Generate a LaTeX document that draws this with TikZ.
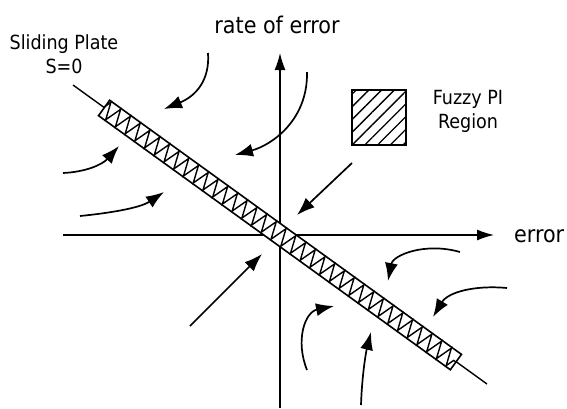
\documentclass[tikz,border=0pt]{standalone}
\usepackage{fontspec}
\setmainfont{DejaVu Sans Condensed}
\usetikzlibrary{arrows.meta,decorations.pathmorphing,patterns.meta,calc}
\begin{document}
\begin{tikzpicture}[x=1pt,y=-1pt,
  flow/.style={line width=1.7pt,-{Latex[length=18pt,width=13pt]}},
  axis/.style={line width=1.4pt,-{Latex[length=17pt,width=11pt]}},
  lbl/.style={font=\fontsize{19.5}{24}\selectfont,align=center,inner sep=0pt},
  biglbl/.style={font=\fontsize{23}{27}\selectfont,inner sep=0pt}]
\useasboundingbox (0,0) rectangle (567,408);
% axes
\coordinate (O) at (280,235);
\coordinate (xs) at (63,235);
\coordinate (xe) at (494,235);
\coordinate (ys) at (280,408);
\coordinate (ye) at (280,53);
\draw[axis] (xs) -- (xe);
\draw[axis] (ys) -- (ye);
\node[biglbl,anchor=base west] (ex) at (514,242) {error};
\node[biglbl,anchor=base] (ey) at (277,33) {rate of error};
% sliding line
\coordinate (s1) at (73,85);
\coordinate (s2) at (487,384);
\draw[line width=1.4pt] (s1) -- (s2);
\node[draw,fill=white,line width=1.6pt,minimum width=434pt,minimum height=19pt,inner sep=0pt,rotate=-35.84] (band) at (O) {};
\draw[line width=1.4pt,decorate,decoration={zigzag,segment length=12pt,amplitude=8.6pt}] (band.west) -- (band.east);
\node[lbl] (sp) at (64,54) {Sliding Plate\\S=0};
% fuzzy PI region
\node[draw,line width=1.5pt,minimum width=54pt,minimum height=55pt,inner sep=0pt,
  pattern={Lines[angle=45,distance=9pt,line width=1.3pt]}] (fz) at (379,117.5) {};
\node[lbl] (fzl) at (468,111) {Fuzzy PI\\Region};
% flow arrows
\coordinate (a1s) at (208,53);   \coordinate (a1e) at (164,109);
\coordinate (a2s) at (307,72);   \coordinate (a2e) at (235,155);
\coordinate (a3s) at (63,173);   \coordinate (a3e) at (119,146);
\coordinate (a4s) at (80,216);   \coordinate (a4e) at (164,192);
\coordinate (a5s) at (352,163);  \coordinate (a5e) at (297,215);
\coordinate (a6s) at (190,326);  \coordinate (a6e) at (262,254);
\coordinate (a7s) at (460,252);  \coordinate (a7e) at (388,281);
\coordinate (a8s) at (507,288);  \coordinate (a8e) at (433,317);
\coordinate (a9s) at (307,370);  \coordinate (a9e) at (334,306);
\coordinate (a10s) at (361,405); \coordinate (a10e) at (371,332);
\draw[flow] (a1s) .. controls (210,80) and (196,96) .. (a1e);
\draw[flow] (a2s) .. controls (308,120) and (272,145) .. (a2e);
\draw[flow] (a3s) .. controls (85,172) and (102,165) .. (a3e);
\draw[flow] (a4s) .. controls (110,213) and (140,208) .. (a4e);
\draw[flow] (a5s) -- (a5e);
\draw[flow] (a6s) -- (a6e);
\draw[flow] (a7s) .. controls (425,242) and (393,255) .. (a7e);
\draw[flow] (a8s) .. controls (475,285) and (448,292) .. (a8e);
\draw[flow] (a9s) .. controls (295,340) and (305,312) .. (a9e);
\draw[flow] (a10s) .. controls (362,375) and (366,352) .. (a10e);
\end{tikzpicture}
\end{document}
